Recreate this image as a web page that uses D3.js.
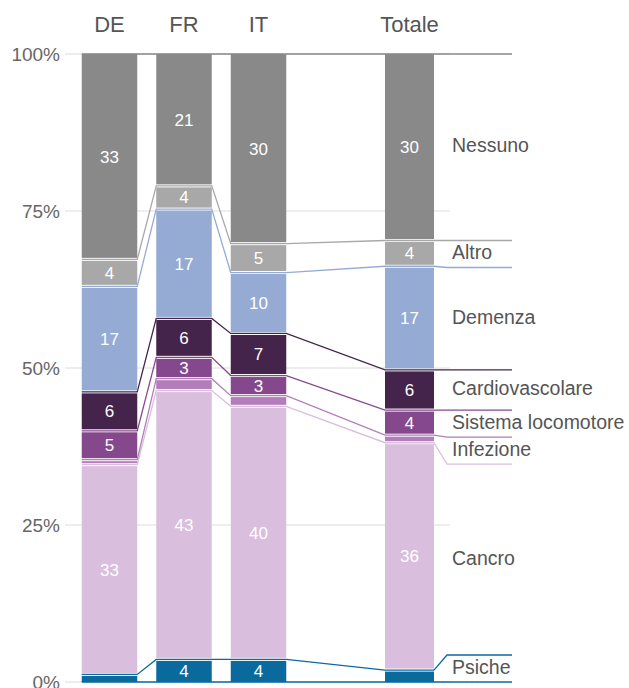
<html>
<head>
    <script src="https://d3js.org/d3.v7.min.js"></script>
</head>
<style>
    body { margin: 0; background: white; }
    svg { font-family: "Liberation Sans", Arial, sans-serif; }
    .grid { stroke: #dcdcdc; stroke-width: 1px; }
    .head { fill: #555; font-size: 22px; }
    .tick { fill: #666; font-size: 19px; }
    .val { fill: white; font-size: 17px; }
    .lab { fill: #555; font-size: 19.5px; }
</style>
<body>
    <svg id="chart" width="629" height="688"></svg>

    <script>
        // data, percentages per country (bottom to top)
        const categories = ["DE", "FR", "IT", "Totale"];
        const causes = ["Psiche", "Cancro", "Infezione", "Sistema locomotore",
                        "Cardiovascolare", "Demenza", "Altro", "Nessuno"];
        const psiche    = [1.2, 3.6, 3.6, 1.9];
        const cancro    = [33.4, 42.8, 40.3, 36.2];
        const infezione = [0.8, 1.9, 1.7, 1.2];
        const sistema   = [4.6, 3.4, 3.2, 4.0];
        const cardio    = [6.2, 6.2, 6.7, 6.4];
        const demenza   = [16.8, 17.4, 9.7, 16.5];
        const altro     = [4.3, 3.7, 4.6, 4.1];
        const nessuno   = [32.7, 21.0, 30.2, 29.7];
        const yTicks = [0, 25, 50, 75, 100];

        const colors = ["#0a6a9e", "#d9bedd", "#b27db9", "#86488c",
                        "#44244a", "#95abd3", "#a8a8a8", "#898989"];

        const series = [psiche, cancro, infezione, sistema, cardio, demenza, altro, nessuno];
        const table = categories.map((c, i) => {
            const row = { cat: c };
            causes.forEach((k, j) => row[k] = series[j][i]);
            return row;
        });

        const svg = d3.select("svg#chart");
        const y = d3.scaleLinear().domain([0, 100]).range([682, 54]);
        const xc = d3.scaleOrdinal().domain(categories).range([109.5, 184, 258.5, 409.5]);
        const bw = d3.scaleOrdinal().domain(categories).range([55.5, 55.5, 55.5, 49]);
        const left = c => xc(c) - bw(c) / 2;
        const right = c => xc(c) + bw(c) / 2;
        const color = d3.scaleOrdinal().domain(causes).range(colors);

        const stacked = d3.stack().keys(causes)(table);

        // gridlines + y labels
        svg.selectAll("line.grid").data(yTicks).join("line")
            .attr("class", "grid")
            .attr("x1", 65).attr("x2", 450)
            .attr("y1", d => y(d)).attr("y2", d => y(d));
        svg.selectAll("text.tick").data(yTicks).join("text")
            .attr("class", "tick")
            .attr("x", 60).attr("y", d => y(d) + 6.5)
            .attr("text-anchor", "end")
            .text(d => d + "%");

        // column headers
        svg.selectAll("text.head").data(categories).join("text")
            .attr("class", "head")
            .attr("x", d => xc(d)).attr("y", 32)
            .attr("text-anchor", "middle")
            .text(d => d);

        // connector lines between bars (top edge of each segment)
        const conn = svg.append("g").attr("fill", "none").attr("stroke-width", 1.3);
        stacked.forEach(s => {
            const pts = [];
            s.forEach((d, i) => {
                const c = categories[i];
                pts.push([left(c), y(d[1])], [right(c), y(d[1])]);
            });
            conn.append("path").attr("d", d3.line()(pts)).attr("stroke", color(s.key));
        });
        // baseline for the first series
        conn.append("path")
            .attr("d", d3.line()([[left("DE"), y(0)], [512, y(0)]]))
            .attr("stroke", color(causes[0]));

        // right side label bands
        const tot = categories.length - 1;
        const minH = 27;
        const bands = stacked.map(s => ({ key: s.key, top: y(s[tot][1]), bot: y(s[tot][0]), nat: y(s[tot][1]) }));
        let prev = y(100);
        for (let j = bands.length - 1; j >= 0; j--) {
            const b = bands[j];
            b.top = Math.max(b.top, prev);
            b.bot = Math.max(b.bot, b.top + minH);
            prev = b.bot;
        }
        let next = y(0);
        for (let j = 0; j < bands.length; j++) {
            const b = bands[j];
            b.bot = Math.min(b.bot, next);
            b.top = Math.min(b.top, b.bot - minH);
            next = b.top;
        }
        bands.forEach(b => {
            const r = right("Totale");
            conn.append("path")
                .attr("d", d3.line()([[r, b.nat], [r + 13, b.top], [512, b.top]]))
                .attr("stroke", color(b.key));
        });

        // bars
        const bars = svg.append("g");
        stacked.forEach((s, j) => {
            const last = j === stacked.length - 1;
            bars.selectAll("rect.s" + j).data(s).join("rect")
                .attr("class", "s" + j)
                .attr("x", (d, i) => left(categories[i]))
                .attr("width", (d, i) => bw(categories[i]))
                .attr("y", d => y(d[1]) + (last ? 0 : 1.5))
                .attr("height", d => Math.max(1, y(d[0]) - y(d[1]) - (last ? 0 : 1.5) - (j === 0 ? 0 : 1.5)))
                .attr("fill", color(s.key));

            bars.selectAll("text.v" + j).data(s.filter(d => d[1] - d[0] >= 3)).join("text")
                .attr("class", "val")
                .attr("x", d => xc(d.data.cat))
                .attr("y", d => (y(d[0]) + y(d[1])) / 2 + 6)
                .attr("text-anchor", "middle")
                .text(d => (d[1] - d[0]).toFixed(0));
        });

        // right labels
        svg.selectAll("text.lab").data(bands).join("text")
            .attr("class", "lab")
            .attr("x", 452)
            .attr("y", d => (d.top + d.bot) / 2 + 5)
            .text(d => d.key);
    </script>
</body>
</html>
